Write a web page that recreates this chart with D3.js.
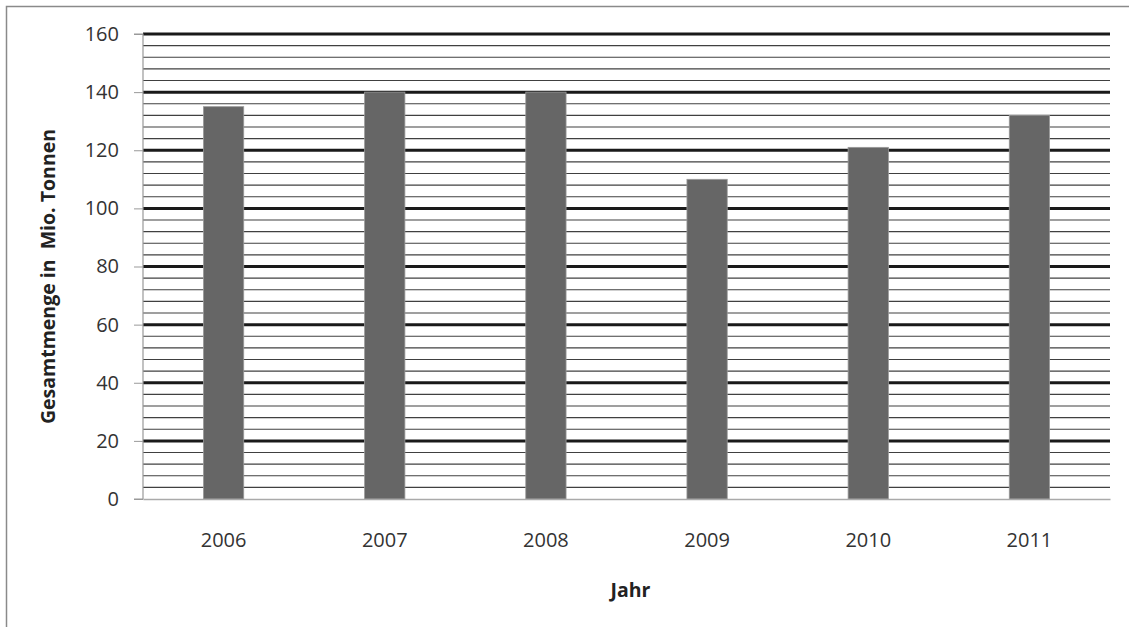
<!DOCTYPE html>
<html><head><meta charset="utf-8">
<script src="https://cdn.jsdelivr.net/npm/d3@7"></script>
<style>body{margin:0;background:#fff;}svg{display:block;font-family:"Open Sans",sans-serif;}</style>
</head><body>
<svg id="c" width="1129" height="627"></svg>
<script>
const years = ["2006","2007","2008","2009","2010","2011"];
const values = [135, 140, 140, 110, 121, 132];
const yTicks = [0,20,40,60,80,100,120,140,160];
const minorStep = 4;

const svg = d3.select("#c");
const m = {l:143, r:1110, t:34, b:499};
const FONT = "'Open Sans',sans-serif";

// outer border
svg.append("path").attr("d",`M6.5,627 V6.5 H1129`).attr("fill","none").attr("stroke","#8a8a8a").attr("stroke-width",1.5);

const x = d3.scaleBand().domain(years).range([m.l,m.r]).paddingInner(0).paddingOuter(0);
const y = d3.scaleLinear().domain([0,160]).range([m.b,m.t]);

// minor gridlines
const minor = d3.range(0,161,minorStep).filter(v=>v%20!==0);
svg.append("g").selectAll("line").data(minor).join("line")
  .attr("x1",m.l).attr("x2",m.r).attr("y1",d=>y(d)).attr("y2",d=>y(d))
  .attr("stroke","#404040").attr("stroke-width",1.2);
// major gridlines
svg.append("g").selectAll("line").data(yTicks.filter(v=>v>0)).join("line")
  .attr("x1",m.l).attr("x2",m.r).attr("y1",d=>y(d)).attr("y2",d=>y(d))
  .attr("stroke","#1a1a1a").attr("stroke-width",3);

// bars
const bw = x.bandwidth()*0.25;
svg.append("g").selectAll("rect").data(years).join("rect")
  .attr("x",(d)=>x(d)+x.bandwidth()/2-bw/2)
  .attr("width",bw)
  .attr("y",(d,i)=>y(values[i]))
  .attr("height",(d,i)=>y(0)-y(values[i]))
  .attr("fill","#666666").attr("stroke","#9a9a9a").attr("stroke-width",0.8);

// y axis
const ya = svg.append("g").attr("transform",`translate(${m.l},0)`)
  .call(d3.axisLeft(y).tickValues(yTicks).tickSize(9).tickPadding(15).tickFormat(d3.format("d")));
ya.select(".domain").attr("stroke","#999").attr("stroke-width",1.2).attr("d",`M-9,${m.t}H0V${m.b}H-9`);
ya.selectAll(".tick line").attr("stroke","#999");
ya.selectAll("text").attr("font-size",20).attr("fill","#333").attr("font-family",FONT);

// x axis
const xa = svg.append("g").attr("transform",`translate(0,${m.b})`)
  .call(d3.axisBottom(x).tickSize(0).tickPadding(34));
xa.select(".domain").attr("stroke","#aaa").attr("stroke-width",1.5);
xa.selectAll("text").attr("font-size",20).attr("fill","#333").attr("font-family",FONT);

// axis titles
svg.append("text").attr("transform",`translate(55,${(m.t+m.b)/2+10}) rotate(-90)`)
  .attr("text-anchor","middle").attr("font-size",19.5).attr("font-weight","bold").attr("fill","#222")
  .attr("font-family",FONT)
  .attr("xml:space","preserve").style("white-space","pre").text("Gesamtmenge in  Mio. Tonnen");
svg.append("text").attr("x",(m.l+m.r)/2+4).attr("y",597)
  .attr("text-anchor","middle").attr("font-size",19.5).attr("font-weight","bold").attr("fill","#222")
  .attr("font-family",FONT).text("Jahr");
</script>
</body></html>
